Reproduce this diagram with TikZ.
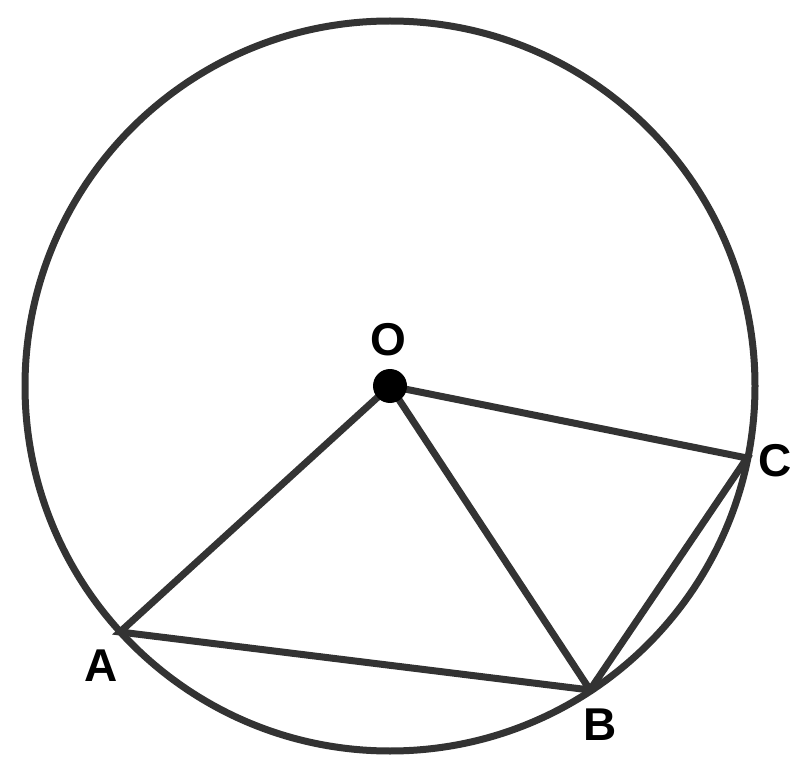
\documentclass[tikz,border=0pt]{standalone}
\usepackage{fontspec}
\setmainfont{Liberation Sans}
\usetikzlibrary{positioning}

\definecolor{edgegray}{HTML}{333333}

\begin{document}
\begin{tikzpicture}[x=1pt,y=-1pt,line width=7pt,draw=edgegray,
                    pt/.style={inner sep=0pt,minimum size=0pt},
                    lbl/.style={font=\bfseries\fontsize{46}{46}\selectfont,inner sep=0pt}]
  \useasboundingbox (0,0) rectangle (804,770);

  \draw[edgegray] (390,386) circle (365);

  \node[pt]   (O) at (390,386) {};
  \node[pt]   (A) at (120,632) {};
  \node[pt]   (B) at (590,690) {};
  \node[pt]   (C) at (747,458) {};

  \path[draw=edgegray,line join=miter]
        (O.center) -- (A.center) -- (B.center) -- (C.center) -- (O.center)
        (O.center) -- (B.center);

  \fill[black] (O) circle (17);

  \node[lbl]  (lO) at (388,340) {O};
  \node[lbl]  (lA) at (101,666) {A};
  \node[lbl]  (lB) at (600,725) {B};
  \node[lbl]  (lC) at (775,461) {C};
\end{tikzpicture}
\end{document}
